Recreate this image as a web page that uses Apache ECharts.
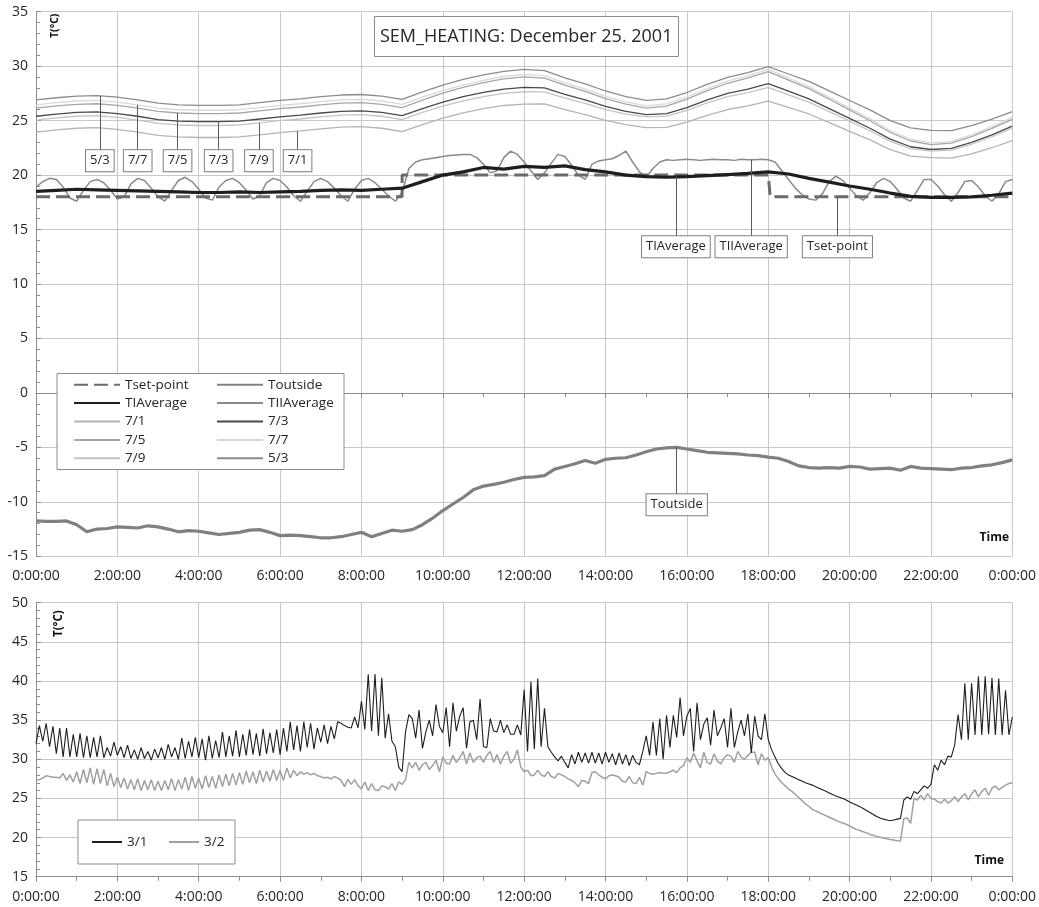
<!DOCTYPE html>
<html><head><meta charset="utf-8">
<script src="https://cdn.jsdelivr.net/npm/echarts/dist/echarts.min.js"></script>
<style>html,body{margin:0;padding:0;background:#fff}#c{width:1039px;height:907px}</style>
</head><body><div id="c"></div>
<script>
// ---------------- DATA ----------------
// time axis: hours 0..24, tick labels
const xTicks = [0,2,4,6,8,10,12,14,16,18,20,22,24];
// room temperatures, one value every 30 min (0:00 .. 24:00)
const ROOM_STEP = 0.5;
const r73 = [25.4,25.6,25.75,25.8,25.65,25.4,25.1,24.95,24.9,24.9,24.95,25.15,25.35,25.5,25.7,25.85,25.9,25.75,25.45,26.1,26.7,27.2,27.6,27.9,28.05,28.0,27.4,26.9,26.3,25.85,25.55,25.65,26.2,26.9,27.5,27.9,28.4,27.7,27.0,26.1,25.2,24.3,23.3,22.6,22.35,22.45,23.0,23.7,24.5];
const r53 = [26.9,27.1,27.25,27.3,27.15,26.9,26.6,26.45,26.4,26.4,26.45,26.65,26.85,27.0,27.2,27.35,27.4,27.25,26.95,27.63,28.25,28.78,29.2,29.53,29.7,29.59,28.93,28.38,27.72,27.21,26.85,26.99,27.58,28.33,28.97,29.41,29.95,29.28,28.6,27.73,26.85,25.98,25.0,24.33,24.1,24.09,24.54,25.13,25.82];
const r77 = [26.45,26.65,26.8,26.85,26.7,26.45,26.15,26.0,25.95,25.95,26.0,26.2,26.4,26.55,26.75,26.9,26.95,26.8,26.5,27.15,27.75,28.25,28.7,29.05,29.25,29.13,28.47,27.9,27.23,26.72,26.35,26.53,27.17,27.95,28.63,29.12,29.7,28.91,28.12,27.14,26.15,25.16,24.08,23.29,22.95,23.1,23.7,24.45,25.3];
const r75 = [26.15,26.35,26.5,26.55,26.4,26.15,25.85,25.7,25.65,25.65,25.7,25.9,26.1,26.25,26.45,26.6,26.65,26.5,26.2,26.89,27.52,28.06,28.49,28.83,29.02,28.91,28.25,27.68,27.02,26.51,26.15,26.33,26.97,27.75,28.43,28.92,29.5,28.72,27.94,26.96,25.98,24.99,23.91,23.13,22.8,22.94,23.54,24.28,25.12];
const r79 = [25.05,25.25,25.4,25.45,25.3,25.05,24.75,24.6,24.55,24.55,24.6,24.8,25.0,25.15,25.35,25.5,25.55,25.4,25.1,25.75,26.33,26.82,27.21,27.5,27.65,27.63,27.06,26.58,26.0,25.6,25.35,25.42,25.95,26.62,27.2,27.58,28.05,27.37,26.7,25.82,24.95,24.07,23.1,22.42,22.2,22.29,22.83,23.52,24.3];
const r71 = [23.95,24.15,24.3,24.35,24.2,23.95,23.65,23.5,23.45,23.45,23.5,23.7,23.9,24.05,24.25,24.4,24.45,24.3,24.0,24.64,25.23,25.72,26.1,26.39,26.52,26.53,26.0,25.56,25.02,24.63,24.35,24.38,24.86,25.49,26.02,26.35,26.8,26.21,25.61,24.82,24.02,23.23,22.34,21.74,21.6,21.55,21.95,22.51,23.16];
// average of zone I, every 30 min
const tiAverage = [18.5,18.6,18.7,18.65,18.6,18.55,18.5,18.45,18.4,18.4,18.45,18.4,18.45,18.5,18.6,18.65,18.6,18.7,18.8,19.4,20.0,20.3,20.7,20.55,20.8,20.7,20.85,20.5,20.3,20.0,19.85,19.8,19.85,19.95,20.05,20.15,20.3,20.1,19.7,19.35,19.0,18.7,18.35,18.05,17.95,17.95,18.0,18.15,18.35];
// average of zone II, every 10 min
const TII_STEP = 1/6;
const tiiAverage = [18.9,19.4,19.7,19.6,18.9,17.9, 17.6,18.6,19.4,19.6,19.3,18.6, 17.8,18.0,19.2,19.7,19.5,18.8, 18.0,17.6,18.6,19.5,19.8,19.4,
 18.7,17.9,17.7,18.9,19.5,19.7, 19.3,18.6,17.8,18.1,19.3,19.7, 19.5,18.9,18.1,17.6,18.5,19.4, 19.7,19.4,18.8,18.1,17.6,18.7,
 19.5,19.7,19.3,18.7,18.1,17.6, 18.4,20.6,21.2,21.4,21.5,21.6, 21.7,21.8,21.85,21.9,21.9,21.6, 21.0,20.2,20.4,21.6,22.2,21.9,
 21.2,20.4,19.6,20.2,21.1,21.9, 21.7,20.9,20.0,19.6,21.0,21.3, 21.4,21.5,21.8,22.2,21.2,20.3, 19.8,20.6,21.2,21.4,21.35,21.4,
 21.45,21.4,21.35,21.4,21.45,21.4, 21.4,21.35,21.45,21.4,21.4,21.45, 21.4,21.2,20.4,19.6,18.8,18.2, 17.8,17.7,18.3,19.4,19.9,19.5,
 18.8,18.1,17.7,18.4,19.3,19.7, 19.4,18.7,17.9,17.6,18.6,19.6, 19.6,19.0,18.2,17.6,18.4,19.4, 19.5,18.9,18.1,17.6,18.3,19.4, 19.6];
// set-point [hour, value]
const tSetPoint = [[0,18],[9,18],[9,20],[18,20],[18.05,18],[24,18]];
// outside temperature, every 15 min
const OUT_STEP = 0.25;
const tOutside = [-11.75,-11.8,-11.8,-11.75,-12.1,-12.75,-12.5,-12.45,-12.3,-12.35,-12.4,-12.2,-12.3,-12.5,-12.75,-12.65,-12.7,-12.85,-13.0,-12.9,-12.8,-12.6,-12.55,-12.8,
 -13.1,-13.05,-13.1,-13.2,-13.3,-13.3,-13.2,-13.0,-12.8,-13.2,-12.9,-12.6,-12.7,-12.55,-12.1,-11.5,-10.8,-10.2,-9.6,-8.9,-8.55,-8.4,-8.2,-7.95,
 -7.75,-7.7,-7.6,-7.0,-6.75,-6.5,-6.2,-6.45,-6.1,-6.0,-5.95,-5.7,-5.4,-5.15,-5.05,-5.0,-5.15,-5.3,-5.45,-5.5,-5.55,-5.6,-5.7,-5.75,
 -5.9,-6.0,-6.3,-6.7,-6.85,-6.9,-6.85,-6.9,-6.75,-6.8,-7.0,-6.95,-6.9,-7.1,-6.75,-6.9,-6.95,-7.0,-7.05,-6.9,-6.85,-6.7,-6.6,-6.4,-6.15];
// lower chart: every 5 min
const LOW_STEP = 1/12;
const s31 = [32.0,34.3,32.3,34.6,31.6,34.2,30.7,34.0,30.3,34.0,30.3,33.2,
 30.3,33.3,30.2,33.0,30.2,32.8,30.3,33.0,30.2,31.5,30.4,32.2,
 30.5,31.6,30.2,31.8,30.1,31.2,30.0,31.5,30.1,31.0,29.9,31.3,
 30.2,31.5,30.0,31.9,30.3,31.5,30.0,32.7,30.1,32.3,30.3,32.8,
 30.2,32.6,29.9,33.0,30.1,32.4,30.2,33.5,30.3,33.0,30.4,33.7,
 30.3,33.2,30.5,33.8,30.6,33.3,30.4,33.9,30.7,33.4,30.8,33.8,
 30.6,34.0,31.0,34.8,31.2,34.3,31.0,34.8,31.5,34.6,31.3,34.0,
 32.2,34.4,32.0,34.2,32.6,34.8,34.6,34.3,34.1,34.0,35.4,34.0,
 37.4,33.8,40.85,33.6,40.9,33.0,40.4,32.7,35.8,32.3,31.6,29.0,
 28.4,33.5,35.7,35.2,32.7,36.3,31.4,33.5,35.0,33.0,37.0,34.2,
 33.4,36.6,31.6,37.2,33.6,35.5,36.6,31.4,34.8,35.0,32.5,37.7,
 31.6,31.5,35.2,33.6,33.5,35.0,33.4,34.4,33.2,33.2,34.4,33.1,
 38.9,31.0,39.9,31.3,40.3,31.6,36.5,31.6,30.9,30.3,29.8,30.4,
 29.6,28.9,30.6,29.4,30.9,29.6,30.8,29.5,30.9,29.5,30.8,29.4,
 30.9,29.6,30.7,29.3,30.8,29.4,30.6,29.2,30.5,29.6,29.3,31.0,
 33.0,30.5,34.8,30.5,35.2,30.0,35.6,31.5,35.6,32.8,37.9,33.0,
 35.5,36.5,31.0,37.2,32.5,34.5,35.3,31.8,36.3,33.0,34.0,35.2,
 31.5,36.5,31.5,33.5,35.0,33.0,35.8,30.8,35.5,33.0,32.5,35.8,
 32.5,31.2,30.3,29.4,28.8,28.3,28.0,27.8,27.6,27.4,27.2,27.0,
 26.85,26.7,26.5,26.3,26.1,25.9,25.7,25.5,25.3,25.15,25.0,24.8,
 24.55,24.35,24.15,23.95,23.7,23.45,23.2,22.95,22.7,22.5,22.35,22.25,
 22.15,22.25,22.35,22.45,24.8,25.2,24.9,25.9,25.6,26.1,26.6,26.3,
 26.8,29.3,28.6,29.9,29.3,30.4,30.3,31.8,35.7,32.5,39.7,32.5,
 39.7,33.1,40.6,33.1,40.6,33.2,40.4,33.1,40.3,33.1,38.8,33.1,
 35.4];
const s32 = [27.4,27.4,27.6,27.9,27.8,27.7,27.7,27.6,28.2,27.3,28.0,27.1,
 28.4,26.9,28.7,27.0,28.9,26.8,28.8,26.9,28.7,26.6,28.2,26.5,
 27.7,26.4,27.6,26.2,27.4,26.1,27.5,26.0,27.3,26.1,27.4,26.0,
 27.2,26.0,27.3,26.1,27.5,26.0,27.4,26.2,27.7,26.0,27.8,26.3,
 27.6,26.2,27.9,26.4,27.8,26.3,28.0,26.5,28.1,26.6,28.2,26.7,
 28.3,26.8,28.5,27.0,28.4,26.9,28.6,27.1,28.5,27.2,28.7,27.3,
 28.6,27.3,28.9,27.6,28.6,27.9,28.4,28.1,28.3,28.0,28.2,27.9,
 27.8,27.6,27.7,27.5,27.8,27.6,27.3,26.5,27.45,26.8,27.4,26.6,
 26.2,27.1,26.0,26.9,26.1,26.0,26.6,26.5,26.2,26.9,26.0,27.1,
 26.8,27.4,29.6,28.9,29.6,28.6,29.3,29.6,28.7,29.2,29.9,28.4,
 30.3,29.5,29.4,30.5,29.6,30.2,31.0,29.4,30.8,29.6,30.2,30.4,
 29.6,30.5,31.0,29.6,30.6,29.4,30.4,31.0,29.5,30.0,31.2,29.0,
 28.4,28.6,27.9,28.0,28.6,28.0,27.8,28.4,27.8,27.6,28.2,28.0,
 27.8,27.5,27.3,27.0,26.5,27.3,27.2,26.9,28.3,28.4,28.0,27.7,
 27.5,27.9,28.0,27.9,27.7,27.2,27.1,27.8,27.0,26.9,27.7,26.7,
 28.4,28.2,28.1,28.2,28.3,28.2,28.2,28.4,28.6,28.3,28.9,29.2,
 30.2,29.6,30.8,29.8,28.9,30.9,29.6,29.4,30.7,29.8,29.4,30.2,
 30.6,30.4,29.6,31.0,30.3,30.0,30.5,30.9,30.9,29.3,30.7,29.9,
 30.2,29.0,28.1,27.5,27.0,26.6,26.2,25.9,25.5,25.1,24.7,24.3,
 24.0,23.6,23.4,23.2,23.0,22.8,22.6,22.4,22.2,22.0,21.85,21.7,
 21.5,21.25,21.05,20.9,20.75,20.6,20.4,20.3,20.15,20.05,19.95,19.85,
 19.75,19.7,19.6,19.55,22.4,22.5,21.8,25.0,24.8,25.4,24.8,25.6,
 25.0,24.9,24.6,24.4,24.9,24.4,24.7,25.2,24.6,25.2,25.6,24.8,
 25.6,26.1,25.2,25.9,26.3,25.4,26.3,26.6,26.1,26.4,26.7,26.9,
 27.0];
// callout annotations: series name, hour of the leader, value of the box centre
const topCallouts = [
  ['5/3',1.57,21.32],['7/7',2.5,21.32],['7/5',3.48,21.32],['7/3',4.49,21.32],['7/9',5.48,21.32],['7/1',6.43,21.32],
  ['TIAverage',15.73,13.43],['TIIAverage',17.58,13.43],['Tset-point',19.7,13.43],['Toutside',15.75,-10.27]
];

// ---------------- CHART ----------------
const FONT = '"Open Sans", "Noto Sans", sans-serif';
const TXT = '#262626';
const GRIDC = '#c8c8c8';
const AXC = '#8c8c8c';
const topGrid = {left:36, right:26.3, top:11.7, bottom:350.7};
const lowGrid = {left:36, right:26.3, top:602.7, bottom:30.3};
const topY = {min:-15, max:35};
const pxPerUnitTop = (907 - topGrid.top - topGrid.bottom) / (topY.max - topY.min);
const boxHalf = 10.5 / pxPerUnitTop;

function pairs(vals, step){ return vals.map((v,i)=>[+(i*step).toFixed(4), v]); }
function interp(data, t){
  for (let i=1;i<data.length;i++){
    if (data[i][0] >= t){
      const a=data[i-1], b=data[i];
      if (b[0]===a[0]) return b[1];
      return a[1] + (b[1]-a[1])*(t-a[0])/(b[0]-a[0]);
    }
  }
  return data[data.length-1][1];
}

const topSeriesDefs = [
  {name:'7/1', data:pairs(r71,ROOM_STEP), color:'#b4b4b4', width:1.3},
  {name:'7/3', data:pairs(r73,ROOM_STEP), color:'#4a4a4a', width:1.3},
  {name:'7/5', data:pairs(r75,ROOM_STEP), color:'#a6a6a6', width:1.3},
  {name:'7/7', data:pairs(r77,ROOM_STEP), color:'#d9d9d9', width:1.3},
  {name:'7/9', data:pairs(r79,ROOM_STEP), color:'#c4c4c4', width:1.3},
  {name:'5/3', data:pairs(r53,ROOM_STEP), color:'#8c8c8c', width:1.3},
  {name:'TIIAverage', data:pairs(tiiAverage,TII_STEP), color:'#8a8a8a', width:1.5},
  {name:'Tset-point', data:tSetPoint, color:'#6b6b6b', width:3, dash:[14,6]},
  {name:'TIAverage', data:pairs(tiAverage,ROOM_STEP), color:'#1e1e1e', width:3.2},
  {name:'Toutside', data:pairs(tOutside,OUT_STEP), color:'#808080', width:3.2}
];

function buildSeries(def, xi, yi, callouts){
  const s = {
    name:def.name, type:'line', xAxisIndex:xi, yAxisIndex:yi, data:def.data,
    symbol:'none', showSymbol:false, smooth:false, animation:false,
    lineStyle:{color:def.color, width:def.width, type: def.dash ? def.dash : 'solid'},
    itemStyle:{color:def.color},
    emphasis:{disabled:true}
  };
  const mine = (callouts||[]).filter(c=>c[0]===def.name);
  if (mine.length){
    s.markLine = {
      silent:true, animation:false, symbol:['none','none'],
      label:{show:false}, emphasis:{disabled:true},
      lineStyle:{color:'#5a5a5a', width:1, type:'solid'},
      data: mine.map(c=>[{coord:[c[1], interp(def.data, c[1])]},{coord:[c[1], c[2]+boxHalf]}])
    };
    s.markPoint = {
      silent:true, animation:false, symbol:'rect', symbolSize:1,
      itemStyle:{color:'rgba(0,0,0,0)'},
      label:{show:true, position:'inside', formatter:'{b}', color:TXT, fontFamily:FONT, fontSize:13,
        lineHeight:16, backgroundColor:'#fff', borderColor:'#7f7f7f', borderWidth:1, padding:[3,4,2,4]},
      data: mine.map(c=>({name:c[0], coord:[c[1], c[2]]}))
    };
  }
  return s;
}

const series = topSeriesDefs.map(d=>buildSeries(d,0,0,topCallouts));
series.push(buildSeries({name:'3/2', data:pairs(s32,LOW_STEP), color:'#a0a0a0', width:1.5},1,1));
series.push(buildSeries({name:'3/1', data:pairs(s31,LOW_STEP), color:'#1e1e1e', width:1.1},1,1));

function xAxis(gi){
  return {
    type:'value', gridIndex:gi, min:xTicks[0], max:xTicks[xTicks.length-1], interval:xTicks[1]-xTicks[0],
    axisLine:{show:true, lineStyle:{color:AXC, width:1}},
    axisTick:{show:true, length:5, lineStyle:{color:AXC}},
    minorTick:{show:true, splitNumber:2, length:4, lineStyle:{color:AXC}},
    splitLine:{show:true, lineStyle:{color:GRIDC, width:1}},
    axisLabel:{color:TXT, fontFamily:FONT, fontSize:14, margin:13,
      formatter:v=>(v%24)+':00:00'}
  };
}
function yAxis(gi, min, max){
  return {
    type:'value', gridIndex:gi, min:min, max:max, interval:5,
    axisLine:{show:true, lineStyle:{color:AXC, width:1}},
    axisTick:{show:true, inside:true, length:5, lineStyle:{color:AXC}},
    minorTick:{show:true, splitNumber:5, length:4, lineStyle:{color:AXC}},
    splitLine:{show:true, lineStyle:{color:GRIDC, width:1}},
    axisLabel:{color:TXT, fontFamily:FONT, fontSize:14, margin:8}
  };
}

const topLegendNames = ['Tset-point','Toutside','TIAverage','TIIAverage','7/1','7/3','7/5','7/7','7/9','5/3'];
const noSymbol = {color:'rgba(0,0,0,0)', borderColor:'rgba(0,0,0,0)', borderWidth:0};

const option = {
  animation:false,
  backgroundColor:'#fff',
  title:{text:'SEM_HEATING: December 25. 2001', left:374, top:16, padding:[9,6,9,6],
    borderColor:'#8c8c8c', borderWidth:1, backgroundColor:'#fff',
    textStyle:{fontFamily:FONT, fontSize:18, fontWeight:'normal', color:TXT, lineHeight:23}},
  grid:[topGrid, lowGrid],
  xAxis:[xAxis(0), xAxis(1)],
  yAxis:[yAxis(0, topY.min, topY.max), yAxis(1, 15, 50)],
  legend:[
    {data: topLegendNames.map((n,i)=>({name:n, textStyle:{width: i%2===0 ? 91 : 76}})),
     left:57, top:373.5, width:300, orient:'horizontal', itemWidth:46, itemHeight:12, itemGap:0,
     padding:[2,0,2,16], backgroundColor:'#fff', borderColor:'#8c8c8c', borderWidth:1, borderRadius:0,
     itemStyle:noSymbol,
     textStyle:{fontFamily:FONT, fontSize:13.5, lineHeight:18.4, color:TXT}, selectedMode:false},
    {data:[{name:'3/1', textStyle:{width:24}},{name:'3/2', textStyle:{width:24}}],
     left:78, top:820, orient:'horizontal', itemWidth:30, itemHeight:12, itemGap:17,
     padding:[13,7,13,13], backgroundColor:'#fff', borderColor:'#8c8c8c', borderWidth:1,
     itemStyle:noSymbol,
     textStyle:{fontFamily:FONT, fontSize:13.5, lineHeight:18, color:TXT}, selectedMode:false}
  ],
  graphic:[
    {type:'text', x:55.5, y:38, rotation:Math.PI/2, style:{text:'T(°C)', font:'bold 10.5px '+FONT, fill:'#111', textAlign:'left', textVerticalAlign:'middle'}},
    {type:'text', x:59, y:637, rotation:Math.PI/2, style:{text:'T(°C)', font:'bold 11.5px '+FONT, fill:'#111', textAlign:'left', textVerticalAlign:'middle'}},
    {type:'text', x:1009, y:538, style:{text:'Time', font:'bold 12px '+FONT, fill:'#111', textAlign:'right', textVerticalAlign:'middle'}},
    {type:'text', x:1004, y:861, style:{text:'Time', font:'bold 12px '+FONT, fill:'#111', textAlign:'right', textVerticalAlign:'middle'}}
  ],
  series: series
};
const chart = echarts.init(document.getElementById('c'), null, {renderer:'canvas'});
chart.setOption(option);
</script></body></html>
